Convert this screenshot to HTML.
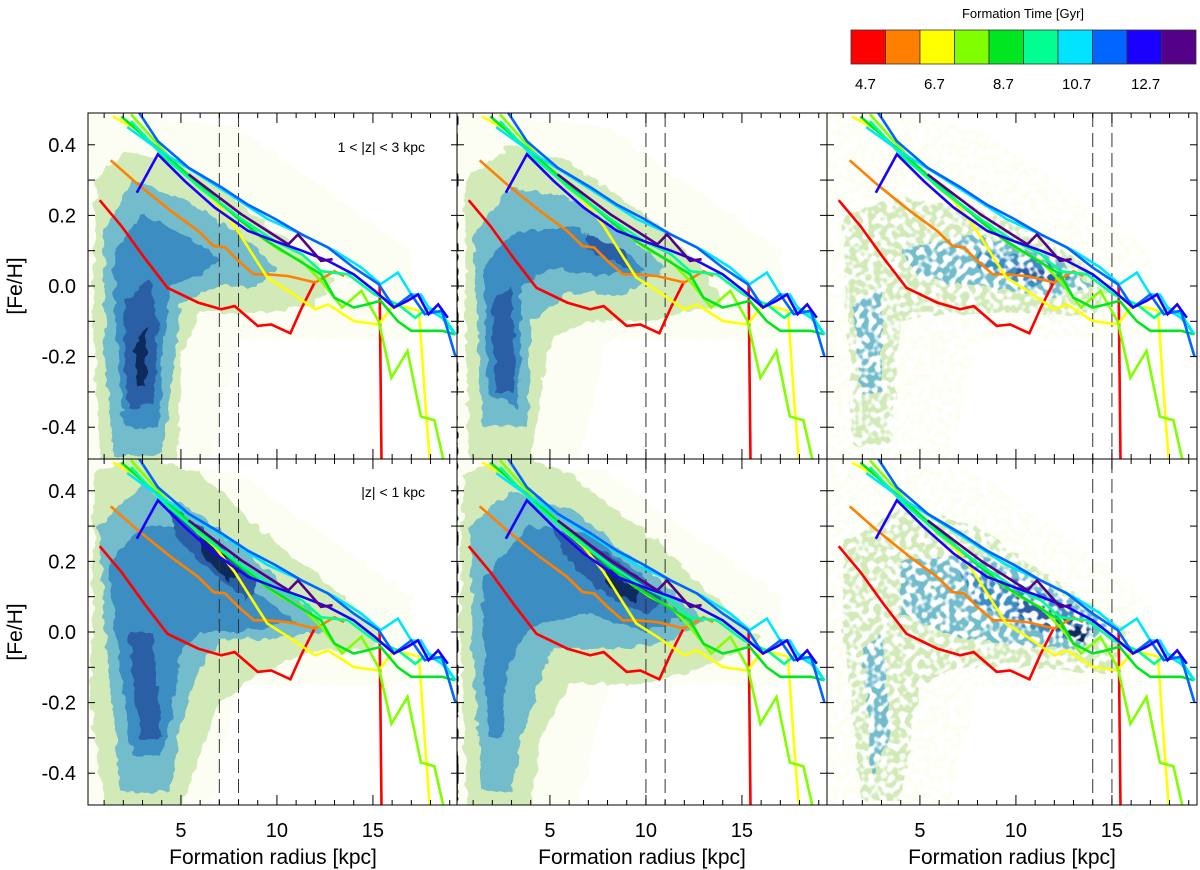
<!DOCTYPE html>
<html><head><meta charset="utf-8"><style>
body{margin:0;background:#fff;}
svg{display:block;font-family:"Liberation Sans",sans-serif;}
</style></head><body>
<svg id="c" width="1200" height="870" viewBox="0 0 1200 870">
<defs>
<filter id="rough" x="-5%" y="-5%" width="110%" height="110%">
<feTurbulence type="fractalNoise" baseFrequency="0.09" numOctaves="2" seed="4" result="t"/>
<feDisplacementMap in="SourceGraphic" in2="t" scale="10" xChannelSelector="R" yChannelSelector="G"/>
</filter>
<filter id="spk" x="-5%" y="-5%" width="110%" height="110%">
<feTurbulence type="fractalNoise" baseFrequency="0.09" numOctaves="2" seed="4" result="t"/>
<feDisplacementMap in="SourceGraphic" in2="t" scale="9" xChannelSelector="R" yChannelSelector="G" result="d"/>
<feTurbulence type="fractalNoise" baseFrequency="0.16" numOctaves="1" seed="9" result="n"/>
<feColorMatrix in="n" type="matrix" values="0 0 0 0 0 0 0 0 0 0 0 0 0 0 0 7 0 0 0 -2.9" result="m"/>
<feComposite in="d" in2="m" operator="in"/>
</filter>
</defs>
<g id="panels"></g>
<g id="colorbar">
<text x="1023" y="18" font-size="13" text-anchor="middle">Formation Time [Gyr]</text>
</g>
</svg>
<script>
const seriesNames = ["4.7","5.7","6.7","7.7","8.7","9.7","10.7","11.7","12.7","13.7"];
const seriesColors = ["#ff0000","#ff8000","#ffff00","#80ff00","#00e620","#00ff90","#00e5ff","#0066ff","#1a00ff","#550088"];
const cbLabels = ["4.7","6.7","8.7","10.7","12.7"];
const xTickLabels = [5,10,15];
const yTickLabels = [0.4,0.2,0.0,-0.2,-0.4];
const dashedLines = [[7,8],[10,11],[14,15]];
const s0x=[0.77,1.9,3.1,4.3,5.9,7.1,7.8,9.0,9.7,10.7,11.3,12.0,null,15.35,15.45];
const s0y=[0.243,0.17,0.08,-0.005,-0.047,-0.066,-0.057,-0.113,-0.109,-0.134,-0.061,0.014,null,0.005,-0.52];
const s1x=[1.34,2.76,4.5,5.9,6.7,7.3,8.0,8.8,9.5,10.6,12.0,13.0,13.5];
const s1y=[0.356,0.288,0.212,0.156,0.113,0.109,0.071,0.033,0.033,0.028,0.01,0.042,0.028];
const s2x=[1.46,2.8,3.63,5.2,6.76,7.8,8.84,9.5,10.6,12.0,12.66,14.0,15.3,16.1,16.8,17.4,17.7,18.0];
const s2y=[0.48,0.44,0.392,0.316,0.241,0.17,0.08,0.024,-0.014,-0.066,-0.052,-0.099,-0.109,-0.052,-0.061,-0.07,-0.31,-0.52];
const s3x=[2.4,4.15,5.9,7.6,9.2,10.2,11.3,12.3,13.4,14.4,15.3,15.96,16.8,17.5,18.2,18.7];
const s3y=[0.486,0.38,0.28,0.21,0.137,0.1,0.07,0.014,-0.061,-0.014,-0.1,-0.26,-0.184,-0.37,-0.38,-0.5];
const s4x=[1.9,3.6,5.9,8.0,9.5,10.9,12.3,13.0,14.0,14.7,15.4,16.3,17.0,17.7,18.6,19.3];
const s4y=[0.48,0.4,0.29,0.19,0.127,0.08,0.033,-0.033,-0.061,-0.052,-0.042,-0.1,-0.127,-0.127,-0.127,-0.137];
const s5x=[2.4,4.15,6.2,8.15,9.9,11.3,12.3,13.7,15.1,16.3,17.2,17.9,18.6,19.3];
const s5y=[0.467,0.364,0.27,0.19,0.127,0.09,0.042,0.033,-0.024,-0.052,-0.09,-0.061,-0.08,-0.137];
const s6x=[2.2,4.0,5.9,7.8,9.5,11.3,13.0,14.4,15.4,16.3,17.0,17.5,18.0,18.6,19.3];
const s6y=[0.45,0.38,0.316,0.25,0.19,0.146,0.1,0.052,0.005,0.038,-0.024,-0.024,-0.07,-0.09,-0.137];
const s7x=[2.76,3.8,5.4,7.1,8.5,9.9,11.3,12.66,14.0,15.3,16.1,17.0,17.7,18.6,19.3];
const s7y=[0.496,0.41,0.335,0.28,0.23,0.19,0.146,0.109,0.052,0.005,-0.061,-0.024,-0.08,-0.07,-0.2];
const s8x=[2.7,3.8,5.2,6.76,8.5,9.9,11.3,12.66,14.0,15.1,16.1,16.8,17.35,17.9,18.4,18.9];
const s8y=[0.264,0.373,0.297,0.222,0.156,0.127,0.1,0.071,0.033,-0.014,-0.061,-0.042,-0.024,-0.08,-0.052,-0.09];
const s9x=[5.4,6.76,8.15,9.5,10.6,11.1,12.3,12.9];
const s9y=[0.316,0.26,0.203,0.156,0.118,0.146,0.071,0.076];
const seriesX=[s0x,s1x,s2x,s3x,s4x,s5x,s6x,s7x,s8x,s9x];
const seriesY=[s0y,s1y,s2y,s3y,s4y,s5y,s6y,s7y,s8y,s9y];

const levelColors=["#fdfef3","#d2eab8","#72bccb","#3a8dc2","#2a5ea6","#0d2a5e"];
const bg=[[0.2,0.5],[8,0.45],[17,0.1],[17,-0.15],[8,-0.15],[6.5,-0.5],[0.2,-0.5]];
const dens=[
 [[0,bg],
  [1,[[0.6,0.3],[2,0.38],[4,0.36],[7,0.28],[10,0.15],[13,0.02],[12,-0.05],[9,-0.08],[6,-0.07],[5,-0.2],[4.8,-0.5],[0.8,-0.5],[0.4,-0.1]]],
  [2,[[1,0.15],[2.5,0.3],[5,0.25],[8,0.15],[10,0.05],[9,0.0],[7,0.0],[5,-0.05],[4.5,-0.3],[4,-0.48],[1.5,-0.48],[1,-0.2]]],
  [3,[[1.5,0.1],[3,0.2],[5,0.15],[7,0.08],[6,0.03],[4.5,0.0],[4,-0.2],[3.8,-0.4],[2,-0.4],[1.6,-0.1]]],
  [4,[[2,-0.05],[3.3,0.02],[3.8,-0.1],[3.6,-0.33],[2.2,-0.35]]],
  [5,[[2.6,-0.15],[3.2,-0.12],[3.2,-0.28],[2.7,-0.28]]]],
 [[0,bg],
  [1,[[0.6,0.3],[3,0.4],[6,0.35],[10,0.2],[13,0.05],[14,-0.05],[10,-0.1],[7,-0.1],[5,-0.15],[4,-0.5],[0.8,-0.5],[0.6,-0.1]]],
  [2,[[1,0.15],[3,0.28],[6,0.25],[9,0.15],[11,0.05],[9,-0.02],[6,-0.02],[4,-0.1],[3.8,-0.4],[1.5,-0.4],[1.2,-0.1]]],
  [3,[[1.5,0.05],[3,0.15],[6,0.17],[9,0.1],[10,0.04],[8,0.03],[5,0.05],[3.5,0.0],[3.4,-0.35],[1.8,-0.3]]],
  [4,[[2,-0.05],[3,0.0],[3.2,-0.3],[2.2,-0.3]]],
  [4,[[7,0.15],[9,0.1],[9,0.05],[7,0.1]]]],
 [[0,bg],
  [1,[[1,0.2],[4,0.25],[8,0.22],[12,0.12],[15,0.0],[14,-0.08],[10,-0.08],[6,-0.08],[4,-0.1],[3.5,-0.45],[1.5,-0.45]]],
  [2,[[4,0.1],[8,0.15],[12,0.08],[14,0.0],[12,-0.03],[8,0.0],[5,0.02]]],
  [2,[[1.5,-0.05],[3,0],[3,-0.3],[2,-0.3]]],
  [3,[[8,0.1],[11,0.08],[13,0.02],[11,0.0],[8,0.05]]],
  [4,[[10,0.06],[12,0.04],[12,0.0],[10,0.03]]]],
 [[0,bg],
  [1,[[0.5,0.45],[3,0.5],[6,0.45],[10,0.25],[13,0.12],[15.5,0.0],[15,-0.05],[12,-0.05],[9,-0.12],[7,-0.2],[6,-0.35],[5,-0.5],[1,-0.5],[0.3,-0.2]]],
  [2,[[0.7,0.3],[3,0.42],[6,0.33],[9,0.2],[12,0.05],[12.5,0],[9,-0.02],[7,-0.02],[6,-0.1],[5,-0.25],[4.5,-0.45],[1.8,-0.45],[1.2,-0.1]]],
  [3,[[1.2,0.2],[3,0.3],[5,0.3],[8,0.15],[11,0.03],[8,0.0],[6,0.0],[5,-0.05],[4.5,-0.25],[4,-0.35],[2.5,-0.35],[1.8,-0.1]]],
  [4,[[2.3,0.0],[3.5,0.0],[4,-0.3],[2.8,-0.3]]],
  [4,[[4.5,0.35],[6,0.3],[9,0.14],[8.5,0.09],[6,0.2],[4.8,0.27]]],
  [5,[[6,0.27],[7,0.24],[8,0.17],[7.5,0.14],[6.2,0.22]]]],
 [[0,bg],
  [1,[[0.5,0.45],[3,0.5],[6,0.45],[10,0.28],[14,0.08],[16,-0.02],[14,-0.08],[10,-0.15],[6,-0.15],[4.5,-0.3],[4,-0.5],[0.7,-0.5],[0.3,0]]],
  [2,[[0.8,0.3],[3,0.4],[6,0.35],[10,0.18],[13,0.03],[11,-0.03],[8,-0.05],[5,-0.05],[3.5,-0.3],[3,-0.45],[1.5,-0.45],[1,-0.1]]],
  [3,[[1.5,0.15],[4,0.3],[7,0.28],[10,0.15],[12,0.04],[10,0.0],[7,0.05],[4,0.02],[2.8,-0.1],[2.6,-0.3],[1.8,-0.3],[1.6,-0.05]]],
  [4,[[5,0.3],[8,0.22],[11,0.1],[10,0.05],[8,0.1],[6,0.2]]],
  [5,[[8,0.18],[9.5,0.12],[9.5,0.08],[8,0.13]]]],
 [[0,bg],
  [1,[[1,0.25],[4,0.35],[8,0.3],[12,0.15],[16,0.0],[15,-0.12],[11,-0.1],[7,-0.1],[5,-0.15],[4,-0.48],[2,-0.48],[1,0]]],
  [2,[[4,0.2],[8,0.22],[12,0.12],[15,0.02],[13,-0.05],[9,-0.03],[6,0.0],[4,0.05]]],
  [2,[[2,-0.05],[3,0],[3.5,-0.3],[2.5,-0.4]]],
  [3,[[7,0.18],[10,0.15],[14,0.04],[13,-0.03],[10,0.02],[8,0.08]]],
  [4,[[10,0.1],[13,0.04],[14,0.0],[12,0.0],[10,0.05]]],
  [5,[[12.5,0.02],[13.8,0.0],[13.5,-0.03],[12.5,-0.01]]]]
];

const NS="http://www.w3.org/2000/svg";
function mk(tag,attrs,parent){const e=document.createElementNS(NS,tag);for(const k in attrs)e.setAttribute(k,attrs[k]);parent.appendChild(e);return e;}
const colL=[88,457,827], rowT=[113,459], PW=370, PH=346;
const XMIN=0.16, XK=19.2, YMIN=-0.49, YMAX=0.49;
const root=document.getElementById('panels');
const defs=document.querySelector('defs');

for(let r=0;r<2;r++)for(let c=0;c<3;c++){
 const L=colL[c],T=rowT[r],idx=r*3+c;
 const sx=v=>L+(v-XMIN)*XK;
 const sy=v=>T+(YMAX-v)/(YMAX-YMIN)*PH;
 const cp=mk('clipPath',{id:'cp'+idx},defs);
 mk('rect',{x:L,y:T,width:PW,height:PH},cp);
 const g=mk('g',{'clip-path':'url(#cp'+idx+')'},root);
 
 
 const dg=mk('g',{filter:(c===2?'url(#spk)':'url(#rough)')},g);
 
 
 for(const [lev,poly] of dens[idx]){
  const p=mk('polygon',{points:poly.map(q=>sx(q[0]).toFixed(1)+','+sy(q[1]).toFixed(1)).join(' '),fill:levelColors[lev]},dg);
  
  
 }
 for(const dv of dashedLines[c]){
  const d=mk('line',{x1:sx(dv),x2:sx(dv),y1:T,y2:T+PH,stroke:'#333','stroke-width':1,'stroke-dasharray':'14,6'},g);
  
  
 }
 for(let s=0;s<seriesX.length;s++){
  let dstr='',pen=false;
  for(let i=0;i<seriesX[s].length;i++){
   const xv=seriesX[s][i],yv=seriesY[s][i];
   if(xv===null||yv===null){pen=false;continue;}
   dstr+=(pen?'L':'M')+sx(xv).toFixed(1)+' '+sy(yv).toFixed(1);pen=true;
  }
  const ln=mk('path',{d:dstr,fill:'none',stroke:seriesColors[s],'stroke-width':2.6,'stroke-linejoin':'miter'},g);
  
  
 }
 const fr=mk('rect',{x:L,y:T,width:PW,height:PH,fill:'none',stroke:'#000','stroke-width':1},root);
 
 
 const tk=mk('g',{stroke:'#000','stroke-width':1},root);
 
 
 for(let k=1;k<=19;k++){
  const x=sx(k),len=(k%5===0)?10:5;
  mk('line',{x1:x,x2:x,y1:T+PH,y2:T+PH-len},tk);
  mk('line',{x1:x,x2:x,y1:T,y2:T+len},tk);
 }
 for(let k=-4;k<=4;k++){
  const y=sy(k/10);
  mk('line',{x1:L,x2:L+7,y1:y,y2:y},tk);
  mk('line',{x1:L+PW-7,x2:L+PW,y1:y,y2:y},tk);
 }
 if(c===0){
  for(const v of yTickLabels){
   const t=mk('text',{x:76,y:sy(v)+7,'font-size':20,'text-anchor':'end'},root);
   t.textContent=v.toFixed(1);
   
   
  }
  const yt=mk('text',{x:22,y:T+PH/2,'font-size':21,'text-anchor':'middle',transform:'rotate(-90 22 '+(T+PH/2)+')'},root);
  yt.textContent='[Fe/H]';
  
  
 }
 if(r===1){
  for(const v of xTickLabels){
   const t=mk('text',{x:sx(v),y:837,'font-size':20,'text-anchor':'middle'},root);
   t.textContent=v;
   
   
  }
  const xt=mk('text',{x:L+185,y:864,'font-size':21,'text-anchor':'middle'},root);
  xt.textContent='Formation radius [kpc]';
  
  
 }
}
const a1=mk('text',{x:425,y:152,'font-size':14,'text-anchor':'end'},root);
a1.textContent='1 < |z| < 3 kpc';


const a2=mk('text',{x:425,y:497,'font-size':14,'text-anchor':'end'},root);
a2.textContent='|z| < 1 kpc';



const cb=document.getElementById('colorbar');
const cbL=851,cbW=345/seriesColors.length;
for(let i=0;i<seriesColors.length;i++){
 const r=mk('rect',{x:cbL+i*cbW,y:30,width:cbW,height:34,fill:seriesColors[i],stroke:'#333','stroke-width':0.8},cb);
 
 
}
for(let i=0;i<cbLabels.length;i++){
 const t=mk('text',{x:cbL+i*2*cbW+4,y:89,'font-size':15},cb);
 t.textContent=cbLabels[i];
 
 
}
</script>
</body></html>
